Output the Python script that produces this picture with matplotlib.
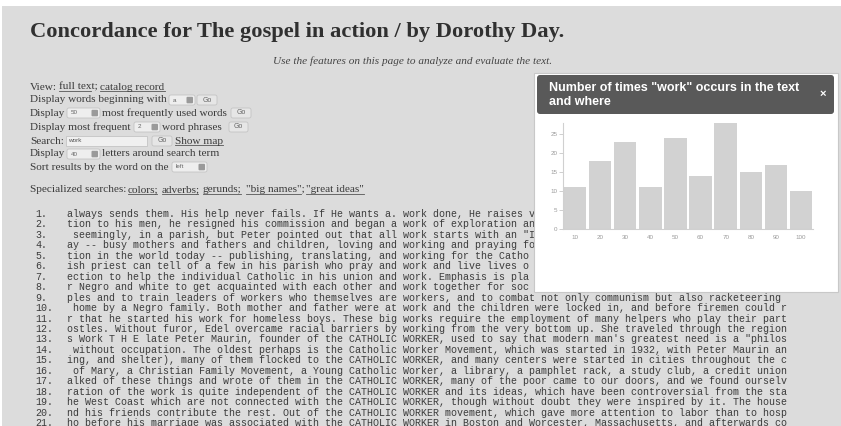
import matplotlib
matplotlib.use("Agg")
import matplotlib.pyplot as plt
from matplotlib.patches import Rectangle, FancyBboxPatch

# ---------------- data ----------------
bin_labels = ["10", "20", "30", "40", "50", "60", "70", "80", "90", "100"]
counts = [11, 18, 23, 11, 24, 14, 28, 15, 17, 10]
y_ticks = [0, 5, 10, 15, 20, 25]

page_title = "Concordance for The gospel in action / by Dorothy Day."
page_subtitle = "Use the features on this page to analyze and evaluate the text."
popup_title = 'Number of times "work" occurs in the text\nand where'

concordance_lines = [
    "always sends them. His help never fails. If He wants a. work done, He raises v",
    "tion to his men, he resigned his commission and began a work of exploration an",
    " seemingly, in a parish, but Peter pointed out that all work starts with an \"I",
    "ay -- busy mothers and fathers and children, loving and working and praying fo",
    "tion in the world today -- publishing, translating, and working for the Catho",
    "ish priest can tell of a few in his parish who pray and work and live lives o",
    "ection to help the individual Catholic in his union and work. Emphasis is pla",
    "r Negro and white to get acquainted with each other and work together for soc",
    "ples and to train leaders of workers who themselves are workers, and to combat not only communism but also racketeering",
    " home by a Negro family. Both mother and father were at work and the children were locked in, and before firemen could r",
    "r that he started his work for homeless boys. These big works require the employment of many helpers who play their part",
    "ostles. Without furor, Edel overcame racial barriers by working from the very bottom up. She traveled through the region",
    "s Work T H E late Peter Maurin, founder of the CATHOLIC WORKER, used to say that modern man's greatest need is a \"philos",
    " without occupation. The oldest perhaps is the Catholic Worker Movement, which was started in 1932, with Peter Maurin an",
    "ing, and shelter), many of them flocked to the CATHOLIC WORKER, and many centers were started in cities throughout the c",
    " of Mary, a Christian Family Movement, a Young Catholic Worker, a library, a pamphlet rack, a study club, a credit union",
    "alked of these things and wrote of them in the CATHOLIC WORKER, many of the poor came to our doors, and we found ourselv",
    "ration of the work is quite independent of the CATHOLIC WORKER and its ideas, which have been controversial from the sta",
    "he West Coast which are not connected with the CATHOLIC WORKER, though without doubt they were inspired by it. The house",
    "nd his friends contribute the rest. Out of the CATHOLIC WORKER movement, which gave more attention to labor than to hosp",
    "ho before his marriage was associated with the CATHOLIC WORKER in Boston and Worcester, Massachusetts, and afterwards co",
]

# ---------------- figure ----------------
W, H = 841, 426
fig = plt.figure(figsize=(W / 100, H / 100), dpi=100)
fig.patch.set_facecolor("white")
bg = fig.add_axes([0, 0, 1, 1])
bg.set_xlim(0, W)
bg.set_ylim(H, 0)
bg.axis("off")

PAGE = "#dcdcdc"
TXT = "#3a3a3a"
SERIF = "Liberation Serif"
MONO = "Liberation Mono"
SANS = "Liberation Sans"

bg.add_patch(Rectangle((2, 6), W, H, facecolor=PAGE, edgecolor="none", zorder=0))

bg.text(30, 37, page_title, fontfamily=SERIF, fontweight="bold", fontsize=16.2,
        color="#303030", va="baseline", ha="left")
bg.text(273, 64, page_subtitle, fontfamily=SERIF, fontstyle="italic", fontsize=8.1,
        color="#444444", va="baseline", ha="left")

FS = 8.1


def t(x, y, s, **kw):
    return bg.text(x, y, s, fontfamily=SERIF, fontsize=FS, color=TXT, va="center", ha="left", **kw)


def link(x0, x1, y, s):
    t(x0, y, s)
    bg.plot([x0, x1], [y + 4.2, y + 4.2], color="#555555", lw=0.6)


def select(x0, x1, y, s):
    bg.add_patch(FancyBboxPatch((x0, y - 5), x1 - x0, 10, boxstyle="round,pad=0,rounding_size=2",
                                facecolor="#eeeeee", edgecolor="#c4c4c4", lw=0.6))
    bg.add_patch(FancyBboxPatch((x1 - 8.5, y - 3.2), 6.5, 6.5, boxstyle="round,pad=0,rounding_size=1",
                                facecolor="#9a9a9a", edgecolor="none"))
    bg.text(x0 + 4, y, s, fontfamily=SANS, fontsize=4.5, color="#666666", va="center", ha="left")


def button(x0, x1, y, s="Go"):
    bg.add_patch(FancyBboxPatch((x0, y - 5), x1 - x0, 10, boxstyle="round,pad=0,rounding_size=2",
                                facecolor="#e6e6e6", edgecolor="#c4c4c4", lw=0.6))
    bg.text((x0 + x1) / 2, y, s, fontfamily=SANS, fontsize=5, color="#666666", va="center", ha="center")


y = 87
t(30, y, "View:")
link(59, 91, y, "full text;")
link(100, 165, y, "catalog record")

y = 100
t(30, y, "Display words beginning with")
select(169, 195, y, "a")
button(197, 217, y)

y = 113
t(30, y, "Display")
select(67, 100, y, "50")
t(102, y, "most frequently used words")
button(231, 251, y)

y = 127
t(30, y, "Display most frequent")
select(134, 160, y, "2")
t(162, y, "word phrases")
button(229, 248, y)

y = 141
t(30, y, "Search:")
bg.add_patch(Rectangle((66, y - 5), 81, 10, facecolor="#f0f0f0", edgecolor="#c4c4c4", lw=0.6))
bg.text(68, y, "work", fontfamily=SANS, fontsize=4.6, color="#555555", va="center", ha="left")
button(152, 172, y)
link(175, 223, y, "Show map")

y = 154
t(30, y, "Display")
select(67, 100, y, "40")
t(102, y, "letters around search term")

y = 167
t(30, y, "Sort results by the word on the")
select(172, 207, y, "left")

y = 190
t(30, y, "Specialized searches:")
link(128, 157, y, "colors;")
link(162, 198, y, "adverbs;")
link(203, 241, y, "gerunds;")
link(246, 301, y, '"big names";')
link(306, 364, y, '"great ideas"')

# concordance lines
MFS = 7.2
for i, line in enumerate(concordance_lines):
    yy = 214 + i * 10.45
    bg.text(35, yy, f"{i + 1}.", fontfamily=MONO, fontsize=MFS, color="#3c3c3c", va="center", ha="left")
    bg.text(67, yy, line, fontfamily=MONO, fontsize=MFS, color="#3c3c3c", va="center", ha="left")

# ---------------- popup ----------------
bg.add_patch(Rectangle((534, 73), 304, 219, facecolor="white", edgecolor="#c8c8c8", lw=0.8, zorder=5))
bg.add_patch(FancyBboxPatch((537, 75), 297, 39, boxstyle="round,pad=0,rounding_size=3",
                            facecolor="#595959", edgecolor="none", zorder=6))
bg.text(549, 95, popup_title, fontfamily=SANS, fontweight="bold", fontsize=9.0, color="white",
        va="center", ha="left", linespacing=1.2, zorder=7)
bg.text(823, 94, "×", fontfamily=SANS, fontweight="bold", fontsize=8, color="white",
        va="center", ha="center", zorder=7)

ax = fig.add_axes([563 / W, 1 - 229 / H, (813 - 563) / W, (229 - 123) / H])
ax.set_zorder(10)
ax.patch.set_alpha(0)
xs = list(range(len(counts)))
ax.bar(xs, counts, width=0.9, color="#d2d2d2", edgecolor="none")
ax.set_xlim(-0.47, len(counts) - 0.53)
ax.set_ylim(0, max(counts))
ax.set_xticks(xs)
ax.set_xticklabels(bin_labels)
ax.set_yticks(y_ticks)
for s in ("top", "right"):
    ax.spines[s].set_visible(False)
for s in ("left", "bottom"):
    ax.spines[s].set_color("#d0d0d0")
    ax.spines[s].set_linewidth(0.8)
ax.tick_params(axis="y", length=3, width=0.6, color="#c8c8c8", labelsize=4.5, labelcolor="#9a9a9a", pad=1)
ax.tick_params(axis="x", length=0, labelsize=4.5, labelcolor="#9a9a9a", pad=4)
for lab in ax.get_xticklabels() + ax.get_yticklabels():
    lab.set_fontfamily(SANS)

fig.savefig("out.png", dpi=100, facecolor=fig.get_facecolor())
